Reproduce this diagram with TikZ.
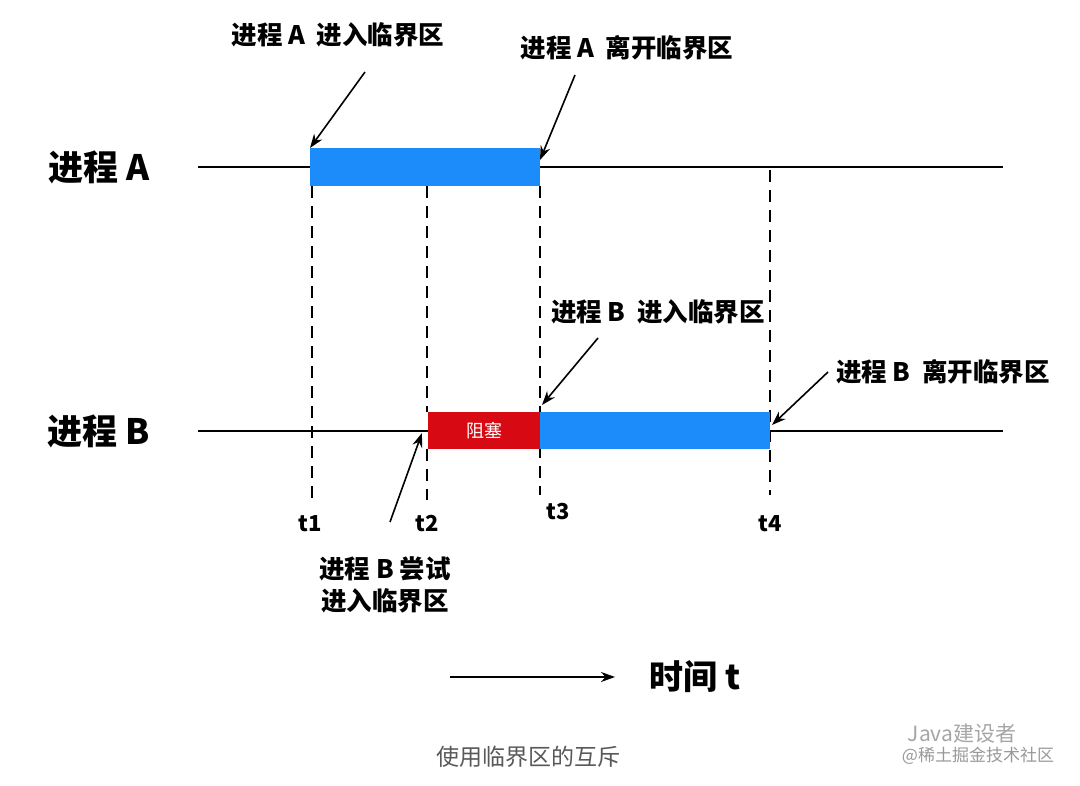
\documentclass[tikz,border=0pt]{standalone}
\usepackage{fontspec}
\setmainfont{Noto Sans CJK SC}
\usetikzlibrary{arrows.meta}
\definecolor{bblue}{RGB}{28,140,250}
\definecolor{bred}{RGB}{215,10,20}
\tikzset{
  tl/.style={draw=black,line width=2pt},
  dl/.style={draw=black,line width=1.6pt,dash pattern=on 12pt off 8pt},
  lab/.style={font=\fontsize{25.5}{30}\selectfont\bfseries},
  big/.style={font=\fontsize{35}{40}\selectfont\bfseries},
  tk/.style={font=\fontsize{22}{26}\selectfont\bfseries},
  arr/.style={draw=black,line width=1.6pt,-{Stealth[length=14pt,width=10pt]}},
}
\begin{document}
\begin{tikzpicture}[x=1pt,y=-1pt]
\useasboundingbox[fill=white] (0,0) rectangle (1080,786);
% process lines
\coordinate (a0) at (198,167); \coordinate (a1) at (1003,167);
\coordinate (b0) at (198,431); \coordinate (b1) at (1003,431);
\draw[tl] (a0) -- (a1);
\draw[tl] (b0) -- (b1);
\node[big] (pa) at (99,167) {进程 A};
\node[big] (pb) at (99,431) {进程 B};
% dashed lines
\draw[dl] (312,186) -- (312,500);
\draw[dl] (427,186) -- (427,412);
\draw[dl] (427,449) -- (427,500);
\draw[dl] (540,186) -- (540,495);
\draw[dl] (770,170) -- (770,495);
% bars
\fill[bblue] (310,148) rectangle (540,186);
\coordinate (ba) at (310,148); \coordinate (ea) at (540,160);
\node[fill=bred,minimum width=112pt,minimum height=37pt,inner sep=0pt,text=white,font=\fontsize{18}{20}\selectfont] (blk) at (484,430.5) {阻塞};
\fill[bblue] (540,412) rectangle (770,449);
\coordinate (bb) at (542,405); \coordinate (eb) at (772,425); \coordinate (tb) at (422,433);
% t labels
\node[tk] (t1) at (310,524) {t1};
\node[tk] (t2) at (427,524) {t2};
\node[tk] (t3) at (558,512) {t3};
\node[tk] (t4) at (770,524) {t4};
% annotations
\node[lab] (l1) at (338,35) {进程 A\ \ 进入临界区};
\node[lab] (l2) at (627,48) {进程 A\ \ 离开临界区};
\node[lab] (l3) at (658,312) {进程 B\ \ 进入临界区};
\node[lab] (l4) at (943,372) {进程 B\ \ 离开临界区};
\node[lab,align=center] (l5) at (385,585) {进程 B 尝试\\[2pt]进入临界区};
\coordinate (s1) at (365,72); \coordinate (s2) at (575,75);
\coordinate (s3) at (598,338); \coordinate (s4) at (828,372);
\coordinate (s5) at (390,522);
\draw[arr] (s1) -- (ba);
\draw[arr] (s2) -- (ea);
\draw[arr] (s3) -- (bb);
\draw[arr] (s4) -- (eb);
\draw[arr] (s5) -- (tb);
% time
\coordinate (ts) at (450,677); \coordinate (te) at (615,677);
\draw[arr,line width=1.8pt] (ts) -- (te);
\node[big,font=\fontsize{34}{40}\selectfont\bfseries] (tt) at (695,677) {时间 t};
% caption
\node[text=black!65,font=\fontsize{23}{26}\selectfont] (cap) at (528,757) {使用临界区的互斥};
\node[text=black!35,font=\fontsize{21}{24}\selectfont] (wm1) at (962,734) {Java建设者};
\node[text=black!40,font=\fontsize{17}{20}\selectfont] (wm2) at (978,756) {@稀土掘金技术社区};
\end{tikzpicture}
\end{document}
